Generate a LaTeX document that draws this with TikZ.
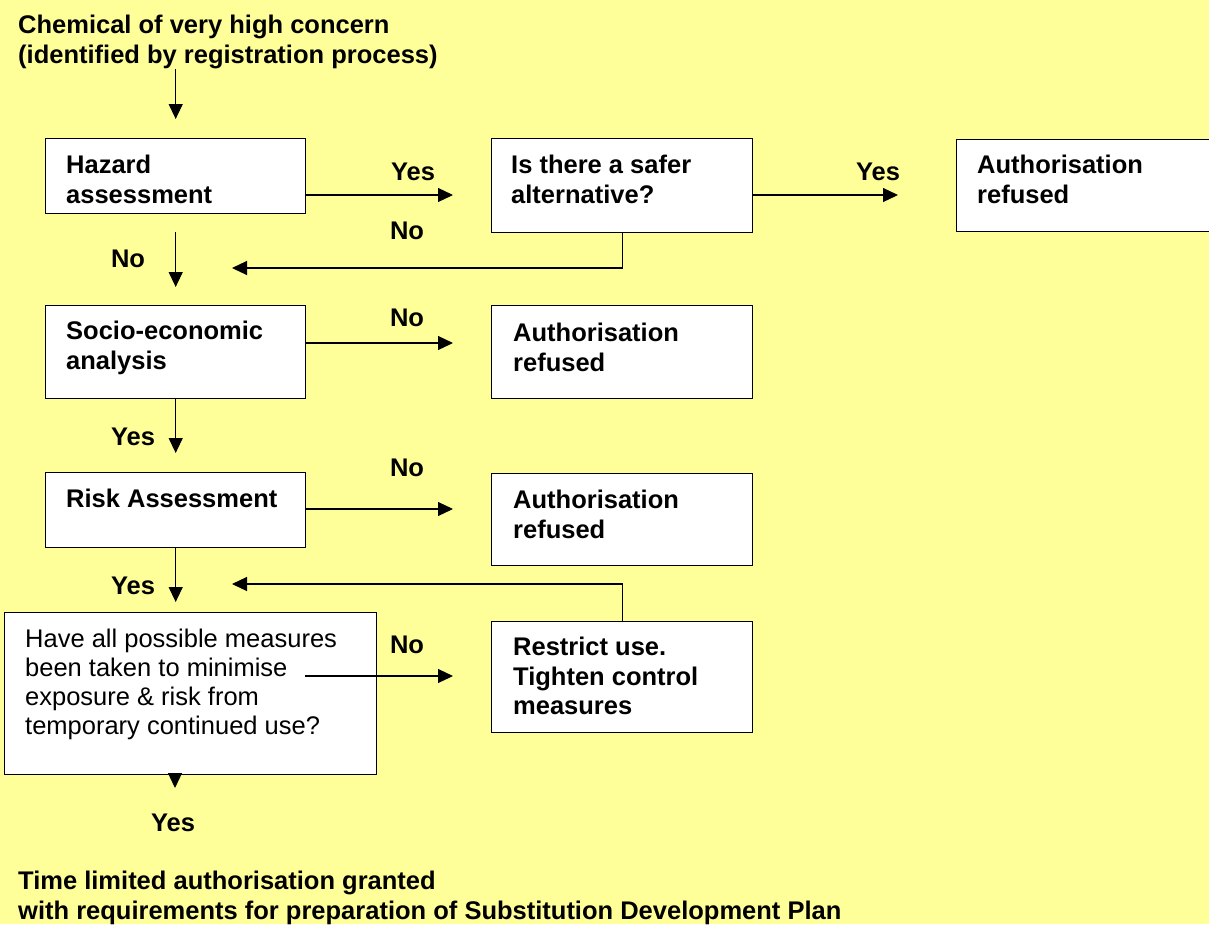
\documentclass[tikz,border=0pt]{standalone}
\usepackage{fontspec}
\setmainfont{Liberation Sans}
\usepackage{tikz}
\usetikzlibrary{arrows.meta}

\definecolor{bgyellow}{RGB}{255,255,153}

\tikzset{
  stepbox/.style={draw, fill=white, line width=1.4pt, anchor=north west, inner sep=0pt},
  boxtext/.style={anchor=north west, align=left, inner sep=0pt, font=\bfseries\fontsize{25.5}{29.5}\selectfont},
  plaintext/.style={anchor=north west, align=left, inner sep=0pt, font=\fontsize{25.5}{29}\selectfont},
  answer/.style={inner sep=0pt, font=\bfseries\fontsize{25.5}{29.5}\selectfont},
  flow/.style={-{Triangle[length=15pt,width=14pt]}, line width=1.2pt}
}

\begin{document}
\begin{tikzpicture}[x=1pt,y=-1pt]

\fill[bgyellow] (0,0) rectangle (1209,924);
\useasboundingbox (0,0) rectangle (1209,924);

\node[boxtext] (chem) at (18,15) {Chemical of very high concern\\(identified by registration process)};

%% first row
\node[stepbox, minimum width=260pt, minimum height=75pt] (hazard) at (45,138) {};
\node[boxtext] (hazardtxt) at (66,155) {Hazard\\assessment};

\node[stepbox, minimum width=261pt, minimum height=94pt] (safer) at (491,138) {};
\node[boxtext] (safertxt) at (511,155) {Is there a safer\\alternative?};

\node[stepbox, minimum width=261pt, minimum height=92pt] (ar1) at (956,139) {};
\node[boxtext] (ar1txt) at (977,155) {Authorisation\\refused};

%% second row
\node[stepbox, minimum width=260pt, minimum height=93pt] (socio) at (45,305) {};
\node[boxtext] (sociotxt) at (66,321) {Socio-economic\\analysis};

\node[stepbox, minimum width=261pt, minimum height=93pt] (ar2) at (491,305) {};
\node[boxtext] (ar2txt) at (513,323) {Authorisation\\refused};

%% third row
\node[stepbox, minimum width=260pt, minimum height=75pt] (risk) at (45,472) {};
\node[boxtext] (risktxt) at (66,489) {Risk Assessment};

\node[stepbox, minimum width=261pt, minimum height=92pt] (ar3) at (491,473) {};
\node[boxtext] (ar3txt) at (513,490) {Authorisation\\refused};

%% fourth row
\node[stepbox, minimum width=372pt, minimum height=162pt] (have) at (4,612) {};
\node[plaintext] (havetxt) at (25,629) {Have all possible measures\\been taken to minimise\\exposure \& risk from\\temporary continued use?};

\node[stepbox, minimum width=261pt, minimum height=111pt] (restrict) at (491,621) {};
\node[boxtext] (restricttxt) at (513,637) {Restrict use.\\Tighten control\\measures};

\node[boxtext] (granted) at (18,871) {Time limited authorisation granted\\with requirements for preparation of Substitution Development Plan};

%% free ends
\coordinate (backA) at (232,268);
\coordinate (backB) at (232,584);
\coordinate (haveOut) at (305,676);
\coordinate (haveTip) at (175,788);

%% connectors
\draw[flow, shorten >=19pt] (chem.south -| hazard.north) -- (hazard.north);
\draw[flow, shorten >=38pt] (hazard.east |- 0,195) -- (safer.west |- 0,195);
\draw[flow, shorten >=58pt] (safer.east |- 0,195) -- (ar1.west |- 0,195);
\draw[flow] (safer.south) |- (backA);
\draw[flow, shorten <=18pt, shorten >=18pt] (hazard.south) -- (socio.north);
\draw[flow, shorten >=38pt] (socio.east |- 0,343) -- (ar2.west |- 0,343);
\draw[flow, shorten >=19pt] (socio.south) -- (risk.north);
\draw[flow, shorten >=38pt] (risk.east |- 0,509) -- (ar3.west |- 0,509);
\draw[flow, shorten >=10pt] (risk.south) -- (risk.south |- have.north);
\draw[flow] (restrict.north) |- (backB);
\draw[flow, shorten >=38pt] (haveOut) -- (restrict.west |- haveOut);
\draw[flow] (have.south -| haveTip) -- (haveTip);

%% answers
\node[answer] (yes1) at (413,172) {Yes};
\node[answer] (no1) at (407,231) {No};
\node[answer] (yes2) at (878,172) {Yes};
\node[answer] (no2) at (128,259) {No};
\node[answer] (no3) at (407,318) {No};
\node[answer] (yes3) at (133,437) {Yes};
\node[answer] (no4) at (407,468) {No};
\node[answer] (yes4) at (133,586) {Yes};
\node[answer] (no5) at (407,645) {No};
\node[answer] (yes5) at (173,823) {Yes};

\end{tikzpicture}
\end{document}
